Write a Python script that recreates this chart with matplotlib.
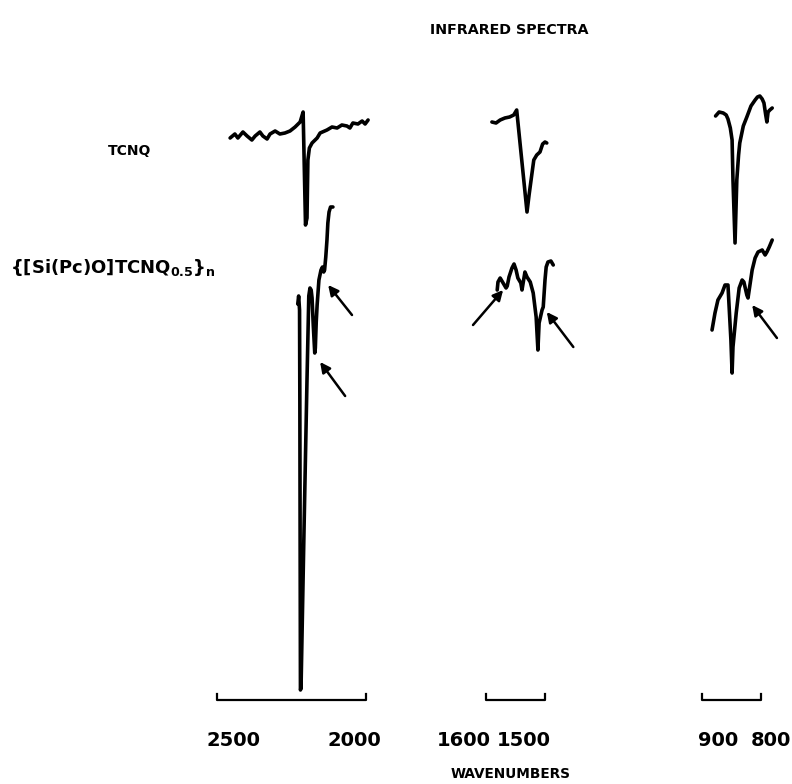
import matplotlib
matplotlib.use("Agg")
import matplotlib.pyplot as plt

plt.rcParams["font.family"] = ["DejaVu Sans"]
plt.rcParams["mathtext.fontset"] = "dejavusans"

# ---- spectra (wavenumber in cm^-1, relative transmittance, arbitrary units) ----
# 2500-2000 cm^-1 window
tcnq_cn_wn = [2456, 2440, 2430, 2413, 2399, 2383, 2372, 2356, 2346, 2332, 2322, 2305,
              2289, 2272, 2255, 2238, 2221, 2211, 2203, 2198, 2195, 2190, 2181, 2164,
              2154, 2131, 2114, 2097, 2081, 2064, 2054, 2044, 2027, 2013, 2003, 1993]
tcnq_cn_t = [562, 566, 562, 568, 564, 560, 564, 568, 564, 561, 566, 569,
             566, 567, 569, 573, 578, 588, 475, 482, 540, 552, 557, 562,
             567, 570, 573, 572, 575, 574, 572, 577, 576, 579, 576, 580]

cplx_cn_wn = [2229, 2226, 2223, 2222, 2221, 2220, 2218, 2208, 2198, 2192, 2188, 2184, 2181,
              2177, 2172, 2170, 2167, 2164, 2158, 2151, 2146, 2142, 2139, 2135, 2131, 2128,
              2124, 2119, 2111]
cplx_cn_t = [396, 404, 390, 300, 150, 10, 12, 170, 320, 404, 412, 410, 402,
             375, 347, 352, 378, 395, 420, 430, 433, 428, 430, 443, 460, 477,
             488, 493, 493]

# 1600-1500 cm^-1 window
tcnq_mid_wn = [1590, 1583, 1576, 1568, 1560, 1553, 1548, 1530.5, 1527, 1522, 1519, 1514,
               1508.5, 1504, 1500, 1497]
tcnq_mid_t = [578, 577, 580, 582, 583, 585, 590, 488, 505, 527, 540, 545,
              548, 556, 558, 557]

cplx_mid_wn = [1581, 1579.7, 1576, 1571, 1566, 1564, 1561, 1556, 1552.5, 1549, 1546, 1541,
               1539, 1534, 1530.5, 1525, 1520, 1515, 1512, 1510, 1505, 1503, 1500, 1498,
               1495, 1490, 1486]
cplx_mid_t = [410, 418, 422, 417, 412, 414, 423, 432, 436, 430, 422, 417,
              410, 428, 423, 418, 407, 383, 350, 377, 390, 393, 420, 433,
              438, 439, 435]

# 900-800 cm^-1 window
tcnq_low_wn = [877, 871, 864, 859, 856, 852, 849, 847.5, 844, 841, 838, 836, 830, 824,
               817, 810, 806, 802, 798, 795, 792, 790, 788, 785, 781]
tcnq_low_t = [584, 588, 587, 585, 581, 572, 560, 520, 457, 520, 545, 557, 574, 583,
              594, 600, 603, 604, 601, 597, 585, 578, 588, 590, 592]

cplx_low_wn = [883, 878, 873, 866, 861, 856, 854, 851, 849, 847.5, 842, 837, 832, 829,
               824, 822, 820, 815, 810, 805, 798, 793, 790, 786, 781]
cplx_low_t = [370, 387, 400, 407, 415, 415, 393, 360, 327, 353, 387, 412, 420, 418,
              405, 402, 410, 430, 442, 448, 450, 445, 448, 453, 460]

# marked bands: (head wavenumber, head level, tail wavenumber, tail level)
marks_cn = [(2127, 415, 2047, 385), (2154, 338, 2070, 304)]
marks_mid = [(1571, 410, 1622, 375), (1497, 388, 1452, 353)]
marks_low = [(815, 395, 773, 362)]

# scale brackets and their labels
scale_cn = [2500, 2000]
scale_mid = [1600, 1500]
scale_low = [900, 800]

W, H = 792, 784
fig = plt.figure(figsize=(W / 100, H / 100), dpi=100)
fig.patch.set_facecolor("white")


def panel(px0, px1, wn_at, px_at, px_per_wn):
    ax = fig.add_axes([px0 / W, (H - 700) / H, (px1 - px0) / W, 640 / H])
    wl = wn_at + (px_at - px0) / px_per_wn
    wr = wn_at - (px1 - px_at) / px_per_wn
    ax.set_xlim(wl, wr)
    ax.set_ylim(0, 640)
    ax.axis("off")
    return ax


ax1 = panel(190, 400, 2500, 217, 0.298)
ax2 = panel(440, 600, 1600, 486, 0.59)
ax3 = panel(660, 792, 900, 702, 0.59)

LW = 2.6
kw = dict(color="black", lw=LW, solid_joinstyle="round", solid_capstyle="round", clip_on=False)
ax1.plot(tcnq_cn_wn, tcnq_cn_t, **kw)
ax1.plot(cplx_cn_wn, cplx_cn_t, **kw)
ax2.plot(tcnq_mid_wn, tcnq_mid_t, **kw)
ax2.plot(cplx_mid_wn, cplx_mid_t, **kw)
ax3.plot(tcnq_low_wn, tcnq_low_t, **kw)
ax3.plot(cplx_low_wn, cplx_low_t, **kw)

arrow_kw = dict(arrowstyle="-|>", color="black", lw=1.8, mutation_scale=15,
                shrinkA=0, shrinkB=0)
for ax, marks in ((ax1, marks_cn), (ax2, marks_mid), (ax3, marks_low)):
    for hx, hy, tx, ty in marks:
        ax.annotate("", xy=(hx, hy), xytext=(tx, ty), arrowprops=arrow_kw,
                    annotation_clip=False)

label_kw = dict(fontsize=14, fontweight="bold", ha="center", va="center",
                textcoords="offset pixels", annotation_clip=False)
offsets = {2500: 17, 2000: -12, 1600: -22, 1500: -21, 900: 16, 800: 10}
for ax, (a, b) in ((ax1, scale_cn), (ax2, scale_mid), (ax3, scale_low)):
    ax.plot([a, a, b, b], [6, 0, 0, 6], color="black", lw=1.6, clip_on=False)
    for v in (a, b):
        ax.annotate(f"{v}", xy=(v, 0), xytext=(offsets[v], -40), **label_kw)

fig.text(509 / W, 1 - 30 / H, "INFRARED SPECTRA", fontsize=10.3, fontweight="bold",
         ha="center", va="center")
fig.text(108 / W, 1 - 151 / H, "TCNQ", fontsize=10, fontweight="bold",
         ha="left", va="center")
fig.text(10 / W, 1 - 268 / H, r"{[Si(Pc)O]TCNQ$_{\mathbf{0.5}}$}$_{\mathbf{n}}$",
         fontsize=13, fontweight="bold", ha="left", va="center")
fig.text(511 / W, 1 - 774 / H, "WAVENUMBERS", fontsize=9.8, fontweight="bold",
         ha="center", va="center")

fig.savefig("out.png", dpi=100, facecolor="white")
